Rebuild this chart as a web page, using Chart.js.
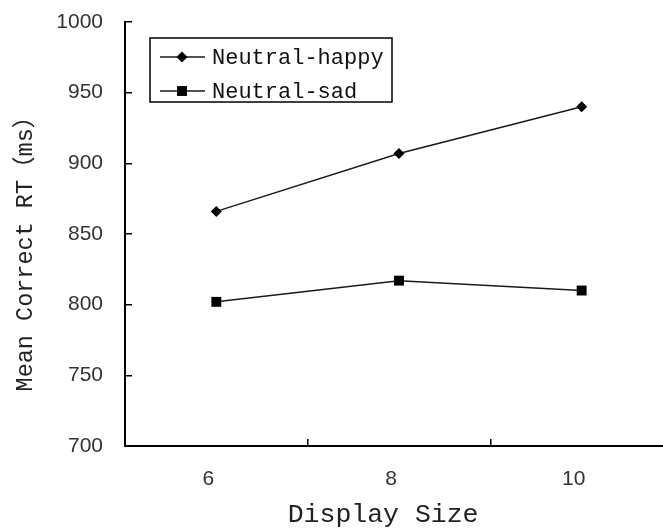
<!DOCTYPE html>
<html>
<head>
<meta charset="utf-8">
<script src="https://cdn.jsdelivr.net/npm/chart.js@4.4.0/dist/chart.umd.min.js"></script>
<style>
  html, body { margin: 0; padding: 0; background: #fff; overflow: hidden; }
  #wrap { width: 680px; height: 531px; }
</style>
</head>
<body>
<div id="wrap"><canvas id="chart" width="680" height="531"></canvas></div>
<script>
// Data
const displaySizes = ['6', '8', '10'];
const neutralHappy = [866, 907, 940];
const neutralSad = [802, 817, 810];
const yMin = 700, yMax = 1000, yStep = 50;

const tickFont = { family: 'Liberation Sans', size: 21 };
const monoFont = "'Liberation Mono', 'Noto Sans CJK SC', monospace";

// Legend drawn in a box inside the plot, like the original
const legendBox = {
    id: 'legendBox',
    afterDatasetsDraw(chart) {
        const { ctx, chartArea } = chart;
        const x0 = chartArea.left + 25, y0 = chartArea.top + 16;
        ctx.save();
        ctx.strokeStyle = '#000';
        ctx.lineWidth = 1.5;
        ctx.strokeRect(x0, y0, 242, 64);
        chart.data.datasets.forEach((ds, i) => {
            const y = y0 + 19 + i * 34;
            ctx.strokeStyle = ds.borderColor;
            ctx.lineWidth = ds.borderWidth;
            ctx.beginPath();
            ctx.moveTo(x0 + 10, y);
            ctx.lineTo(x0 + 55, y);
            ctx.stroke();
            ctx.fillStyle = ds.pointBackgroundColor;
            Chart.helpers.drawPoint(ctx, { pointStyle: ds.pointStyle, radius: ds.pointRadius, rotation: 0, borderWidth: 0 }, x0 + 32, y);
            ctx.fillStyle = '#111';
            ctx.font = "22px " + monoFont;
            ctx.textBaseline = 'middle';
            ctx.textAlign = 'left';
            ctx.fillText(ds.label, x0 + 62, y + 1);
        });
        ctx.restore();
    }
};

new Chart(document.getElementById('chart'), {
    type: 'line',
    data: {
        labels: displaySizes,
        datasets: [{
            label: 'Neutral-happy',
            data: neutralHappy,
            borderColor: '#1a1a1a',
            borderWidth: 1.5,
            pointStyle: 'rectRot',
            pointRadius: 5.5,
            pointBackgroundColor: '#000',
            pointBorderWidth: 0,
            tension: 0
        }, {
            label: 'Neutral-sad',
            data: neutralSad,
            borderColor: '#1a1a1a',
            borderWidth: 1.5,
            pointStyle: 'rect',
            pointRadius: 7,
            pointBackgroundColor: '#000',
            pointBorderWidth: 0,
            tension: 0
        }]
    },
    options: {
        responsive: false,
        animation: false,
        layout: { padding: { top: 22, right: 7, left: 0, bottom: 0 } },
        plugins: { legend: { display: false }, tooltip: { enabled: false } },
        scales: {
            x: {
                type: 'category',
                offset: true,
                grid: { offset: true, drawOnChartArea: false, tickLength: -7, color: '#000', lineWidth: 1.5 },
                border: { color: '#000', width: 2 },
                ticks: { padding: 28, labelOffset: -8, color: '#333', font: tickFont },
                title: { display: true, text: 'Display Size  ', color: '#222', font: { family: monoFont, size: 26.5 }, padding: 0 },
                afterFit: s => { s.height = 85; }
            },
            y: {
                min: yMin,
                max: yMax,
                grid: { drawOnChartArea: false, tickLength: -7, color: '#000', lineWidth: 1.5 },
                border: { color: '#000', width: 2 },
                ticks: { stepSize: yStep, padding: 29, color: '#333', font: tickFont, callback: v => String(v) },
                title: { display: true, text: 'Mean Correct RT（ms）  ', color: '#222', font: { family: monoFont, size: 23.5 }, padding: { top: 12, bottom: 0 } },
                afterFit: s => { s.width = 125; s.paddingTop = 0; s.paddingBottom = 0; }
            }
        }
    },
    plugins: [legendBox]
});
</script>
</body>
</html>
